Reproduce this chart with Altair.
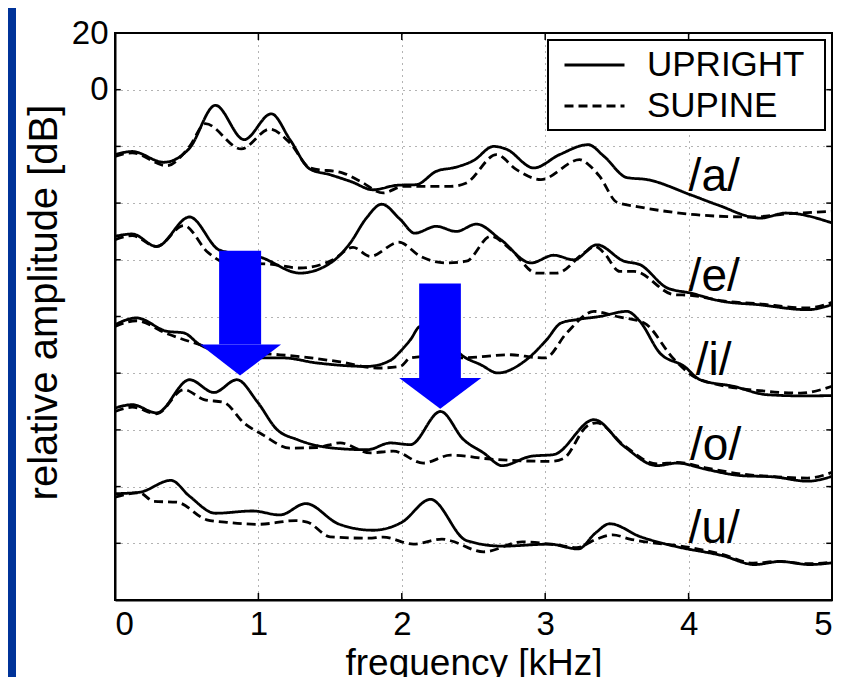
import altair as alt
import pandas as pd

FONT = "Liberation Sans, Arial, Helvetica, sans-serif"

FREQ_TICKS = [0, 1, 2, 3, 4, 5]
DB_TICKS = [20, 0, -20, -40, -60, -80, -100, -120, -140, -160, -180]
POSTURES = ["UPRIGHT", "SUPINE"]
VOWELS = ["/a/", "/e/", "/i/", "/o/", "/u/"]

# ---- /a/ ----
a_up_f = [0, 0.12, 0.34, 0.52, 0.70, 0.90, 1.09, 1.22, 1.36, 1.50, 1.65, 1.80, 1.97, 2.10, 2.24, 2.38, 2.50, 2.64, 2.73, 2.92, 3.10, 3.30, 3.41, 3.57, 3.71, 4.01, 4.20, 4.50, 4.68, 5.0]
a_up_db = [-22.9, -21.8, -25.6, -20.6, -5.5, -17.6, -8.5, -17.6, -28.0, -30.0, -32.5, -35.3, -33.7, -33.5, -28.8, -27.3, -25.0, -20.0, -21.0, -27.6, -22.9, -19.4, -23.5, -31.0, -31.7, -37.0, -40.6, -45.3, -43.5, -47.0]
a_sup_f = [0, 0.12, 0.36, 0.52, 0.63, 0.88, 1.08, 1.22, 1.36, 1.59, 1.71, 1.87, 2.01, 2.34, 2.45, 2.66, 2.80, 2.97, 3.24, 3.31, 3.38, 3.50, 3.64, 4.05, 4.43, 4.71, 5.0]
a_sup_db = [-23.5, -22.3, -26.8, -20.0, -12.0, -20.9, -13.9, -18.8, -27.6, -29.4, -32.3, -36.4, -34.1, -34.1, -32.9, -22.9, -28.2, -31.7, -24.7, -26.8, -30.6, -39.7, -41.2, -44.1, -44.9, -43.7, -42.9]

# ---- /e/ ----
e_up_f = [0, 0.12, 0.29, 0.52, 0.73, 1.01, 1.29, 1.52, 1.64, 1.75, 1.86, 1.99, 2.09, 2.24, 2.38, 2.52, 2.69, 2.90, 3.06, 3.20, 3.36, 3.55, 3.66, 3.85, 4.01, 4.24, 4.48, 4.83, 5.0]
e_up_db = [-51.7, -50.9, -55.3, -44.9, -56.6, -59.0, -64.7, -60.5, -54.1, -45.5, -40.4, -45.8, -50.6, -48.2, -50.0, -47.4, -52.9, -61.1, -58.4, -60.0, -54.7, -60.5, -61.7, -69.9, -71.7, -74.7, -75.8, -77.6, -75.8]
e_sup_f = [0, 0.12, 0.29, 0.48, 0.65, 0.78, 1.07, 1.29, 1.52, 1.66, 1.78, 1.98, 2.13, 2.31, 2.45, 2.62, 2.76, 2.94, 3.08, 3.27, 3.35, 3.41, 3.52, 3.62, 3.90, 4.01, 4.24, 4.48, 4.83, 5.0]
e_sup_db = [-52.9, -51.5, -55.3, -47.9, -57.5, -61.1, -61.5, -62.9, -60.0, -55.6, -58.8, -53.8, -58.8, -61.1, -60.5, -51.7, -56.4, -64.7, -64.7, -57.6, -55.3, -57.6, -64.1, -64.1, -72.3, -72.5, -74.5, -75.5, -77.0, -75.0]

# ---- /i/ ----
i_up_f = [0, 0.15, 0.36, 0.48, 0.59, 0.80, 1.06, 1.17, 1.41, 1.76, 1.92, 1.99, 2.06, 2.13, 2.25, 2.43, 2.55, 2.67, 2.87, 3.01, 3.11, 3.22, 3.38, 3.57, 3.66, 3.80, 3.97, 4.08, 4.31, 4.55, 4.80, 5.0]
i_up_db = [-82.9, -80.5, -85.2, -85.8, -89.9, -93.0, -94.6, -94.6, -96.4, -97.6, -95.5, -92.3, -88.2, -83.5, -85.0, -94.1, -97.0, -99.9, -95.2, -88.2, -82.3, -81.1, -80.0, -78.2, -81.7, -92.9, -97.6, -102.3, -104.6, -107.6, -108.0, -107.9]
i_sup_f = [0, 0.15, 0.36, 0.52, 0.80, 1.15, 1.57, 1.83, 1.99, 2.06, 2.20, 2.41, 2.76, 2.94, 3.00, 3.15, 3.34, 3.50, 3.69, 3.90, 4.08, 4.55, 4.78, 5.0]
i_sup_db = [-83.5, -81.5, -86.0, -88.8, -92.5, -93.5, -96.0, -98.2, -97.6, -94.6, -94.0, -94.6, -93.5, -94.5, -94.6, -85.8, -78.2, -80.0, -82.3, -95.2, -102.3, -106.4, -107.0, -104.6]

# ---- /o/ ----
o_up_f = [0, 0.12, 0.29, 0.52, 0.69, 0.85, 0.99, 1.13, 1.27, 1.52, 1.76, 1.92, 2.06, 2.27, 2.43, 2.57, 2.70, 2.90, 3.06, 3.34, 3.55, 3.78, 3.92, 4.13, 4.36, 4.60, 4.83, 5.0]
o_up_db = [-112.3, -111.1, -114.0, -102.3, -106.8, -102.3, -109.9, -119.9, -123.4, -126.4, -127.0, -124.6, -125.2, -113.5, -123.4, -128.1, -132.6, -129.3, -128.7, -116.4, -125.8, -132.6, -131.7, -134.0, -136.1, -136.6, -138.1, -136.4]
o_sup_f = [0, 0.12, 0.29, 0.48, 0.62, 0.76, 0.90, 1.03, 1.22, 1.41, 1.57, 1.78, 1.94, 2.15, 2.34, 2.62, 3.04, 3.13, 3.29, 3.36, 3.55, 3.78, 3.92, 4.13, 4.36, 4.60, 4.83, 5.0]
o_sup_db = [-113.5, -112.0, -114.3, -105.8, -109.3, -110.3, -117.6, -121.7, -126.4, -126.2, -124.6, -128.1, -127.5, -131.7, -128.9, -130.3, -131.1, -130.0, -118.7, -117.5, -125.5, -132.0, -131.5, -133.5, -135.5, -136.5, -137.0, -135.0]

# ---- /u/ ----
u_up_f = [0, 0.17, 0.39, 0.52, 0.70, 0.96, 1.15, 1.33, 1.56, 1.80, 2.00, 2.20, 2.45, 2.70, 3.03, 3.23, 3.35, 3.45, 3.66, 3.90, 4.24, 4.46, 4.64, 4.84, 5.0]
u_up_db = [-142.5, -142.0, -137.8, -143.4, -149.4, -148.6, -150.0, -146.0, -153.2, -155.4, -152.6, -144.5, -159.0, -161.0, -160.3, -162.0, -156.4, -153.1, -157.6, -161.0, -164.4, -167.5, -166.4, -167.5, -166.9]
u_sup_f = [0, 0.17, 0.27, 0.43, 0.64, 0.78, 1.00, 1.26, 1.34, 1.50, 1.77, 1.87, 2.08, 2.28, 2.34, 2.57, 2.84, 3.08, 3.22, 3.36, 3.47, 3.59, 4.01, 4.24, 4.45, 4.62, 4.83, 5.0]
u_sup_db = [-143.7, -142.2, -145.2, -145.5, -151.7, -152.6, -153.3, -152.0, -152.5, -157.7, -158.2, -157.8, -160.3, -158.5, -159.1, -163.0, -159.5, -160.6, -161.5, -158.5, -157.0, -158.5, -161.5, -164.0, -167.0, -166.4, -167.2, -166.7]

# vowel label anchors (kHz, dB)
label_f = [4.0, 4.0, 4.05, 4.01, 4.0]
label_db = [-35.6, -71.1, -100.5, -130.5, -159.8]

# blue arrows (kHz, dB)
arrow_shaft_x = [0.726, 2.121]
arrow_shaft_x2 = [1.019, 2.412]
arrow_top = [-56.8, -68.4]
arrow_head_base = [-89.9, -101.7]
arrow_head_x = [0.593, 1.982]
arrow_head_x2 = [1.158, 2.554]
arrow_tip_x = [0.872, 2.268]
arrow_tip_y = [-100.8, -112.5]

# ------------------------------------------------------------------
curves = [
    ("/a/", "UPRIGHT", a_up_f, a_up_db), ("/a/", "SUPINE", a_sup_f, a_sup_db),
    ("/e/", "UPRIGHT", e_up_f, e_up_db), ("/e/", "SUPINE", e_sup_f, e_sup_db),
    ("/i/", "UPRIGHT", i_up_f, i_up_db), ("/i/", "SUPINE", i_sup_f, i_sup_db),
    ("/o/", "UPRIGHT", o_up_f, o_up_db), ("/o/", "SUPINE", o_sup_f, o_sup_db),
    ("/u/", "UPRIGHT", u_up_f, u_up_db), ("/u/", "SUPINE", u_sup_f, u_sup_db),
]
rows = []
for vowel, posture, fs, ds in curves:
    for f, d in zip(fs, ds):
        rows.append({"vowel": vowel, "posture": posture, "curve": vowel + posture, "freq": f, "db": d})
df = pd.DataFrame(rows)

labels_df = pd.DataFrame({"text": VOWELS, "freq": label_f, "db": label_db})

shaft_df = pd.DataFrame({"x": arrow_shaft_x, "x2": arrow_shaft_x2, "y": arrow_top, "y2": arrow_head_base})
head_rows = []
for k in range(len(arrow_tip_x)):
    head_rows.append({"arrow": k, "x": arrow_head_x[k], "y": arrow_head_base[k], "y2": arrow_head_base[k]})
    head_rows.append({"arrow": k, "x": arrow_tip_x[k], "y": arrow_head_base[k], "y2": arrow_tip_y[k]})
    head_rows.append({"arrow": k, "x": arrow_head_x2[k], "y": arrow_head_base[k], "y2": arrow_head_base[k]})
head_df = pd.DataFrame(head_rows)

# inward tick marks (MATLAB style box)
TICK_F = 0.04
TICK_DB = 2.5
tick_rows = []
for v in DB_TICKS:
    tick_rows.append({"x": 0.0, "x2": TICK_F, "y": v, "y2": v})
    tick_rows.append({"x": 5.0 - TICK_F, "x2": 5.0, "y": v, "y2": v})
for v in FREQ_TICKS:
    tick_rows.append({"x": v, "x2": v, "y": -180.0, "y2": -180.0 + TICK_DB})
    tick_rows.append({"x": v, "x2": v, "y": 20.0, "y2": 20.0 - TICK_DB})
ticks_df = pd.DataFrame(tick_rows)

xscale = alt.Scale(domain=[0, 5], nice=False, zero=False)
yscale = alt.Scale(domain=[-180, 20], nice=False, zero=False)
xaxis = alt.Axis(values=FREQ_TICKS, title="frequency [kHz]")
yaxis = alt.Axis(values=DB_TICKS, title="relative amplitude [dB]",
                 labelExpr="datum.value >= 0 ? datum.label : ''")


def X(field):
    return alt.X(field, type="quantitative", scale=xscale, axis=xaxis)


def Y(field):
    return alt.Y(field, type="quantitative", scale=yscale, axis=yaxis)


one = pd.DataFrame({"k": [0]})

strip = alt.Chart(one).mark_rect(color="#003399").encode(
    x=alt.value(-107), x2=alt.value(-99), y=alt.value(-25), y2=alt.value(660)
)

lines = alt.Chart(df).mark_line(color="black", strokeWidth=2.8, interpolate="monotone").encode(
    x=X("freq"),
    y=Y("db"),
    strokeDash=alt.StrokeDash(
        "posture:N",
        scale=alt.Scale(domain=POSTURES, range=[[1, 0], [9, 5]]),
        sort=POSTURES,
        title=None,
        legend=alt.Legend(orient="none", legendX=433, legendY=7),
    ),
    detail="curve:N",
)

legend_box = alt.Chart(one).mark_rect(fill="white", stroke="black", strokeWidth=2).encode(
    x=alt.value(433), x2=alt.value(710), y=alt.value(7), y2=alt.value(97)
)

ticks = alt.Chart(ticks_df).mark_rule(color="black", strokeWidth=1.5).encode(
    x=X("x"), x2="x2", y=Y("y"), y2="y2"
)

shafts = alt.Chart(shaft_df).mark_rect(color="#0000FF").encode(
    x=X("x"), x2="x2", y=Y("y"), y2="y2"
)
heads = alt.Chart(head_df).mark_area(color="#0000FF", opacity=1).encode(
    x=X("x"), y=Y("y"), y2="y2", detail="arrow:N"
)

texts = alt.Chart(labels_df).mark_text(
    align="left", baseline="alphabetic", font=FONT, fontSize=46, color="black"
).encode(x=X("freq"), y=Y("db"), text="text:N")

chart = (
    alt.layer(strip, ticks, lines, shafts, heads, texts, legend_box)
    .properties(
        width=717,
        height=567,
        autosize=alt.AutoSizeParams(type="none"),
        padding={"left": 107, "top": 25, "right": 9, "bottom": 77},
        background="white",
    )
    .configure_view(stroke="black", strokeWidth=2)
    .configure_axis(
        grid=True,
        gridColor="#000000",
        gridOpacity=0.6,
        gridDash=[1, 5],
        gridWidth=1,
        ticks=False,
        domainColor="black",
        domainWidth=2,
        labelFont=FONT,
        labelFontSize=33,
        labelColor="black",
        titleFont=FONT,
        titleColor="black",
        titleFontWeight="normal",
    )
    .configure_axisX(labelPadding=8, titleFontSize=37, titleX=358.5, titleY=74,
                     titleBaseline="alphabetic", titleAlign="center")
    .configure_axisY(labelPadding=7, titleFontSize=40, titleAngle=270, titleX=-59, titleY=269,
                     titleBaseline="alphabetic", titleAlign="center")
    .configure_legend(
        padding=7,
        clipHeight=36,
        rowPadding=5,
        symbolType="stroke",
        symbolSize=3600,
        symbolStrokeWidth=2.8,
        symbolStrokeColor="black",
        symbolOffset=8,
        labelFont=FONT,
        labelFontSize=35,
        labelColor="black",
        labelOffset=21,
    )
)

chart.save("out.html", embed_options={"renderer": "svg", "actions": False})
